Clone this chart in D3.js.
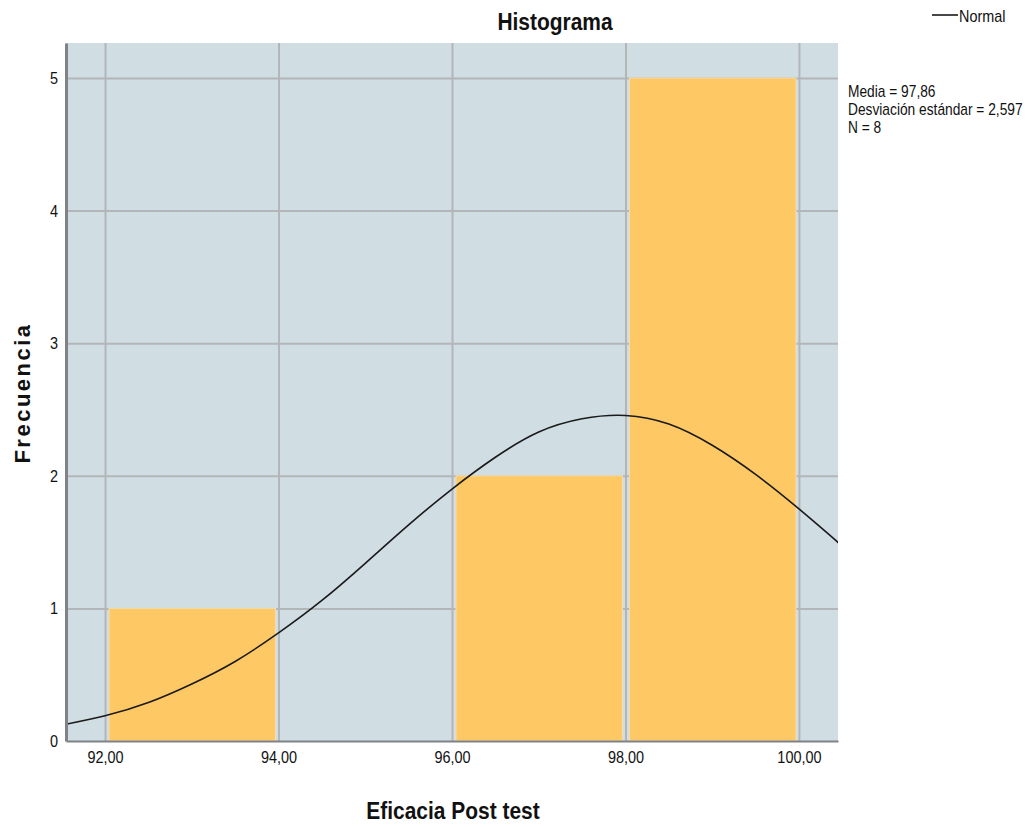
<!DOCTYPE html>
<html>
<head>
<meta charset="utf-8">
<script src="https://cdn.jsdelivr.net/npm/d3@7"></script>
<style>
  body { margin: 0; background: #fff; }
  text { font-family: "Liberation Sans", Arial, sans-serif; fill: #111; }
</style>
</head>
<body>
<div id="chart"></div>
<script>
// bins of the histogram (start, end, count)
const binStarts = [92, 94, 96, 98];
const binEnds = [94, 96, 98, 100];
const binCounts = [1, 0, 2, 5];

// normal curve (x value, frequency)
const curveX = [91.5, 92, 92.5, 93, 93.5, 94, 94.5, 95, 95.5, 96, 96.5, 97, 97.5, 98, 98.5, 99, 99.5, 100, 100.5];
const curveY = [0.12, 0.19, 0.29, 0.43, 0.60, 0.815, 1.06, 1.34, 1.63, 1.90, 2.14, 2.33, 2.43, 2.455, 2.39, 2.23, 2.01, 1.75, 1.47];

const xTicks = [92, 94, 96, 98, 100];
const yTicks = [0, 1, 2, 3, 4, 5];
const statsLines = ["Media = 97,86", "Desviación estándar = 2,597", "N = 8"];

const width = 1034, height = 827;
const margin = { top: 43, right: 196, bottom: 86, left: 66 };
const innerW = width - margin.left - margin.right;
const innerH = height - margin.top - margin.bottom;

// squeeze text horizontally, the original font is a narrow one
function narrow(sel, k) {
    sel.each(function() {
        const len = this.getComputedTextLength();
        d3.select(this)
            .attr('textLength', len * k)
            .attr('lengthAdjust', 'spacingAndGlyphs');
    });
}

const svg = d3.select('#chart').append('svg')
    .attr('width', width)
    .attr('height', height);

const plot = svg.append('g')
    .attr('transform', `translate(${margin.left},${margin.top})`);

const x = d3.scaleLinear().domain([91.55, 100.45]).range([0, innerW]);
const y = d3.scaleLinear().domain([0, 5.264]).range([innerH, 0]);

// background
plot.append('rect')
    .attr('width', innerW)
    .attr('height', innerH)
    .attr('fill', '#d0dde3');

plot.append('clipPath').attr('id', 'clip')
  .append('rect').attr('width', innerW).attr('height', innerH);

// grid
plot.append('g')
    .attr('transform', `translate(0,${innerH})`)
    .call(d3.axisBottom(x).tickValues(xTicks).tickSize(-innerH).tickFormat(''))
    .call(g => g.select('.domain').remove())
    .selectAll('line').attr('stroke', '#b3b6b9').attr('stroke-width', 2);

plot.append('g')
    .call(d3.axisLeft(y).tickValues(yTicks.slice(1)).tickSize(-innerW).tickFormat(''))
    .call(g => g.select('.domain').remove())
    .selectAll('line').attr('stroke', '#b3b6b9').attr('stroke-width', 2);

// bars
const bins = binStarts.map((s, i) => ({ x0: s, x1: binEnds[i], n: binCounts[i] }));
plot.selectAll('.bar')
    .data(bins.filter(d => d.n > 0))
  .enter().append('rect')
    .attr('class', 'bar')
    .attr('x', d => x(d.x0) + 4)
    .attr('width', d => x(d.x1) - x(d.x0) - 7)
    .attr('y', d => y(d.n))
    .attr('height', d => y(0) - y(d.n))
    .attr('fill', '#fec965')
    .attr('stroke', '#f3dcb0')
    .attr('stroke-width', 1);

// normal curve
const line = d3.line()
    .x(d => x(d[0]))
    .y(d => y(d[1]))
    .curve(d3.curveNatural);

plot.append('path')
    .datum(curveX.map((v, i) => [v, curveY[i]]))
    .attr('clip-path', 'url(#clip)')
    .attr('d', line)
    .attr('fill', 'none')
    .attr('stroke', '#1a1a1a')
    .attr('stroke-width', 1.6);

// axes
const xAxis = plot.append('g')
    .attr('transform', `translate(0,${innerH})`)
    .call(d3.axisBottom(x).tickValues(xTicks).tickSize(0).tickPadding(10)
        .tickFormat(d => d3.format('.2f')(d).replace('.', ',')));
xAxis.select('.domain').attr('stroke', '#7f8286').attr('stroke-width', 2);
xAxis.selectAll('text').style('font-size', '17px').attr('fill', '#111')
    .call(narrow, 0.85);

const yAxis = plot.append('g')
    .call(d3.axisLeft(y).tickValues(yTicks).tickSize(0).tickPadding(8).tickFormat(d3.format('d')));
yAxis.select('.domain').attr('stroke', '#7f8286').attr('stroke-width', 3);
yAxis.selectAll('text').style('font-size', '17px').attr('fill', '#111')
    .call(narrow, 0.85);

// title and axis titles
svg.append('text')
    .attr('x', 555).attr('y', 30)
    .attr('text-anchor', 'middle')
    .style('font-size', '23px').style('font-weight', 'bold')
    .text('Histograma')
    .call(narrow, 0.91);

svg.append('text')
    .attr('x', 453).attr('y', 819)
    .attr('text-anchor', 'middle')
    .style('font-size', '23px').style('font-weight', 'bold')
    .text('Eficacia Post test')
    .call(narrow, 0.91);

svg.append('text')
    .attr('transform', 'translate(30,393) rotate(-90)')
    .attr('text-anchor', 'middle')
    .style('font-size', '22px').style('font-weight', 'bold')
    .style('letter-spacing', '2.5px')
    .text('Frecuencia');

// legend
svg.append('line')
    .attr('x1', 932).attr('x2', 958)
    .attr('y1', 15).attr('y2', 15)
    .attr('stroke', '#1a1a1a').attr('stroke-width', 1.6);
svg.append('text')
    .attr('transform', 'translate(959,22) scale(0.9,1)')
    .style('font-size', '16px')
    .text('Normal');

svg.append('g')
    .selectAll('text')
    .data(statsLines)
  .enter().append('text')
    .attr('transform', (d, i) => `translate(848,${97 + i * 18}) scale(0.86,1)`)
    .style('font-size', '16px')
    .text(d => d);
</script>
</body>
</html>
